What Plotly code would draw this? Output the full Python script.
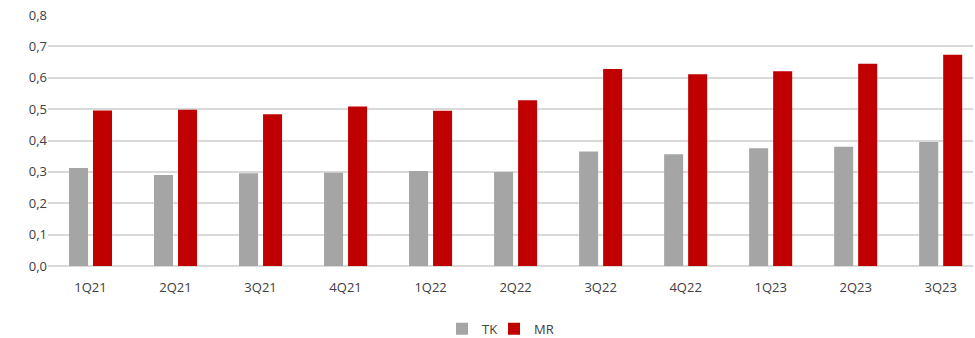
import plotly.graph_objects as go

categories = ["1Q21", "2Q21", "3Q21", "4Q21", "1Q22", "2Q22", "3Q22", "4Q22", "1Q23", "2Q23", "3Q23"]
tk_values = [0.312, 0.290, 0.296, 0.297, 0.303, 0.300, 0.365, 0.356, 0.375, 0.380, 0.395]
mr_values = [0.496, 0.498, 0.484, 0.508, 0.495, 0.528, 0.628, 0.611, 0.621, 0.645, 0.673]
y_ticks = [0, 0.1, 0.2, 0.3, 0.4, 0.5, 0.6, 0.7, 0.8]

fig = go.Figure()
fig.add_trace(go.Bar(name="TK", x=categories, y=tk_values, legend="legend",
                     marker=dict(color="#a5a5a5", line=dict(width=0))))
fig.add_trace(go.Bar(name="MR", x=categories, y=mr_values, legend="legend2",
                     marker=dict(color="#c00000", line=dict(width=0))))

leg_common = dict(orientation="h", yref="container", y=0.027, yanchor="middle", xref="container",
                  xanchor="left", font=dict(size=13, color="#404040"), itemwidth=30,
                  bgcolor="rgba(0,0,0,0)")

fig.update_layout(
    width=975, height=338,
    margin=dict(l=48, r=2, t=15, b=72, autoexpand=False),
    paper_bgcolor="white", plot_bgcolor="white",
    barmode="group", bargap=0.435, bargroupgap=0.208,
    separators=", ",
    font=dict(family="Open Sans", size=13, color="#404040"),
    showlegend=True,
    legend=dict(x=442 / 975, **leg_common),
    legend2=dict(x=494 / 975, **leg_common),
    xaxis=dict(type="category", range=[-0.5, 10.38], showgrid=False, showline=False,
               ticks="", ticklabelstandoff=12, automargin=False,
               tickfont=dict(size=13, color="#404040")),
    yaxis=dict(range=[0, 0.8], tickvals=y_ticks, tickformat=".1f", showgrid=True,
               gridcolor="#d9d9d9", gridwidth=1.5, zeroline=True, zerolinecolor="#d9d9d9",
               zerolinewidth=1.5, showline=False, ticks="", ticksuffix="\u2007\u2009",
               automargin=False, tickfont=dict(size=13, color="#404040")),
)

fig.write_html("out.html")
